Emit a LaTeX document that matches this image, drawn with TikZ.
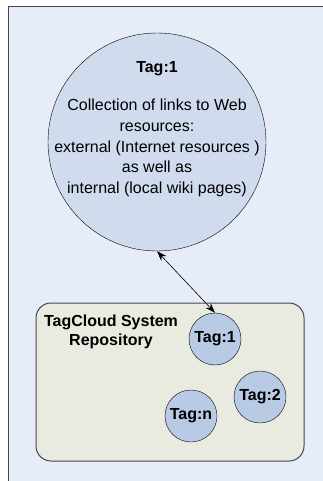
\documentclass[tikz,border=0pt]{standalone}
\usepackage{fontspec}
\setmainfont{Liberation Sans}
\usetikzlibrary{arrows.meta, positioning}
\definecolor{pageblue}{RGB}{231,237,248}
\definecolor{bigblue}{RGB}{208,220,237}
\definecolor{tagblue}{RGB}{185,202,229}
\definecolor{repobeige}{RGB}{234,235,224}
\definecolor{framegray}{RGB}{70,70,70}

\begin{document}
\begin{tikzpicture}[x=1pt,y=-1pt,
  txt/.style={font=\fontsize{16}{20.7}\selectfont},
  bigtag/.style={circle,draw=black,fill=bigblue,minimum size=218pt,inner sep=0pt},
  smalltag/.style={circle,draw=black,fill=tagblue,minimum size=52pt,inner sep=0pt,
    font=\fontsize{16}{19}\selectfont\bfseries},
  arr/.style={{Stealth[length=10pt,width=7pt]}-{Stealth[length=10pt,width=7pt]},black,semithick}
]
  \useasboundingbox (0,0) rectangle (322,481);
  \fill[white] (0,0) rectangle (322,481);
  \draw[framegray,fill=pageblue,line width=1pt] (8,7) rectangle (340,500);

  % the tag with its description
  \node[bigtag] (tag) at (157,142) {};
  \node[txt,font=\fontsize{16}{19}\selectfont\bfseries] (tagtitle) at (157,69) {Tag:1};
  \node[txt,align=center] (tagdesc) at (157,148) {Collection of links to Web\\resources:\\external (Internet resources )\\as well as\\internal (local wiki pages)};

  % repository
  \draw[framegray,fill=repobeige,line width=1pt,rounded corners=15pt] (36,303) rectangle (304,461);
  \node[align=center,font=\fontsize{16}{19}\selectfont\bfseries] (repo) at (111,332) {TagCloud System\\Repository};
  \node[smalltag] (cloud1) at (215,339) {Tag:1};
  \node[smalltag] (cloud2) at (260,397) {Tag:2};
  \node[smalltag] (cloudn) at (191,416) {Tag:n};

  \draw[arr] (tag.south) -- (cloud1.north);
\end{tikzpicture}
\end{document}
